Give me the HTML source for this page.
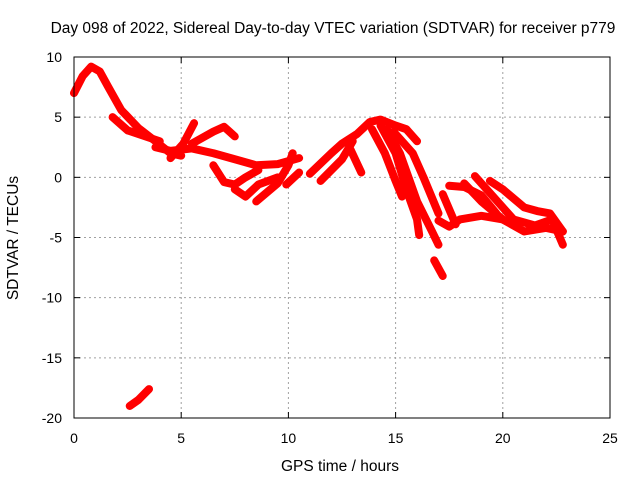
<!DOCTYPE html>
<html><head><meta charset="utf-8"><style>
body{margin:0;background:#fff;}
svg{display:block;font-family:"Liberation Sans",sans-serif;}
</style></head><body>
<svg id="chart" width="640" height="480">
<rect width="640" height="480" fill="#fff"/>
<text x="333" y="33" font-size="15.5" text-anchor="middle">Day 098 of 2022, Sidereal Day-to-day VTEC variation (SDTVAR) for receiver p779</text>
<g id="grid"></g>
<g id="series"></g>
<rect x="74" y="57" width="536" height="361" fill="none" stroke="#000" stroke-width="1"/>
<g id="ticks"></g>
<text x="340" y="471" font-size="15.5" text-anchor="middle">GPS time / hours</text>
<text transform="translate(18,238) rotate(-90)" font-size="15.5" text-anchor="middle">SDTVAR / TECUs</text>
</svg>
<script>
const xTicks=[0,5,10,15,20,25];
const yTicks=[10,5,0,-5,-10,-15,-20];
const track1=[[0,7],[0.4,8.4],[0.8,9.2],[1.2,8.8],[1.6,7.5],[2.2,5.6],[3,4.1],[3.8,3],[4.5,2],[5,1.8]];
const track2=[[1.8,5],[2.5,3.9],[3.5,3.3],[4,3]];
const track3=[[3.8,2.5],[4.5,2.2],[5.5,2.4],[6.5,2],[7.5,1.5],[8.5,1],[9.5,1.1],[10.5,1.6]];
const track4=[[4.5,1.6],[5.1,2.8],[5.6,4.5]];
const track5=[[5.5,2.8],[6.5,3.8],[7,4.2],[7.5,3.4]];
const track6=[[6.5,1],[7,-0.4],[7.5,-0.6],[8,0],[8.6,0.6]];
const track7=[[7.5,-1],[8,-1.6],[8.6,-0.6],[9.5,0]];
const track8=[[8.5,-2],[9.5,-0.5],[10,1],[10.2,2]];
const track9=[[9.9,-0.6],[10.5,0.4]];
const track10=[[11,0.3],[12,2],[12.5,2.8],[13.2,3.6],[13.8,4.6],[14.3,4.8],[15,4.3],[15.5,4],[16,3]];
const track11=[[11.5,-0.3],[12.5,1.5],[13,3]];
const track12=[[12.9,2.3],[13.4,0.4]];
const track13=[[13.9,4],[14.5,2],[15,-0.3],[15.3,-1.6]];
const track14=[[14.3,4.3],[15,2],[15.5,-1],[16,-3.5],[16.1,-4.8]];
const track15=[[14.6,4],[15.2,2],[16,-2],[16.7,-4.5],[17,-5.6]];
const track16=[[14.9,3.8],[15.8,2],[16.3,0],[17,-3]];
const track17=[[16.8,-6.9],[17.2,-8.2]];
const track18=[[17,-3.6],[17.5,-4.1],[18,-3.5],[19,-3.2],[20,-3.5],[20.5,-4],[21,-4.5],[22,-4.2],[22.8,-4.5]];
const track19=[[17.2,-1.4],[17.8,-3.9]];
const track20=[[18.2,-0.5],[19,-2],[20,-3.5]];
const track21=[[18.7,0.1],[19.5,-1.5],[20.5,-3.5],[21.5,-4],[22.3,-3.5],[22.8,-5.6]];
const track22=[[19.4,-0.3],[20,-1],[21,-2.5],[21.6,-2.8],[22.2,-3],[22.8,-4.5]];
const track23=[[17.5,-0.7],[18.2,-0.8],[19,-1.5],[19.7,-3]];
const track24=[[2.6,-19],[3,-18.5],[3.5,-17.6]];
const tracks=[track1,track2,track3,track4,track5,track6,track7,track8,track9,track10,track11,track12,track13,track14,track15,track16,track17,track18,track19,track20,track21,track22,track23,track24];
const X0=74,X1=610,Y0=418,Y1=57;
function sx(v){return X0+(v-0)/(25-0)*(X1-X0);}
function sy(v){return Y0-(v+20)/(10+20)*(Y0-Y1);}
const NS="http://www.w3.org/2000/svg";
const grid=document.getElementById('grid'),ticks=document.getElementById('ticks'),series=document.getElementById('series');
function mk(tag,attrs,parent){const e=document.createElementNS(NS,tag);for(const k in attrs)e.setAttribute(k,attrs[k]);parent.appendChild(e);return e;}
xTicks.forEach(t=>{
  const x=sx(t);
  if(t>0&&t<25){const g=mk('line',{x1:x,x2:x,y1:Y1,y2:Y0,stroke:'#a0a0a0','stroke-dasharray':'2,3'},grid);
  
  }
  mk('line',{x1:x,x2:x,y1:Y0,y2:Y0-6,stroke:'#000'},ticks);
  mk('line',{x1:x,x2:x,y1:Y1,y2:Y1+6,stroke:'#000'},ticks);
  const tx=mk('text',{x:x,y:443,'font-size':14,'text-anchor':'middle'},ticks);
  tx.textContent=t;
  
  
});
yTicks.forEach(t=>{
  const y=sy(t);
  if(t>-20&&t<10){const g=mk('line',{x1:X0,x2:X1,y1:y,y2:y,stroke:'#a0a0a0','stroke-dasharray':'2,3'},grid);
  
  }
  mk('line',{x1:X0,x2:X0+6,y1:y,y2:y,stroke:'#000'},ticks);
  mk('line',{x1:X1,x2:X1-6,y1:y,y2:y,stroke:'#000'},ticks);
  const tx=mk('text',{x:62,y:y+5,'font-size':14,'text-anchor':'end'},ticks);
  tx.textContent=t;
  
  
});
tracks.forEach(tr=>{
  const p=mk('polyline',{points:tr.map(d=>sx(d[0])+','+sy(d[1])).join(' '),fill:'none',stroke:'#ff0000','stroke-width':8,'stroke-linejoin':'round','stroke-linecap':'round'},series);
  
  
});
</script>
</body></html>
